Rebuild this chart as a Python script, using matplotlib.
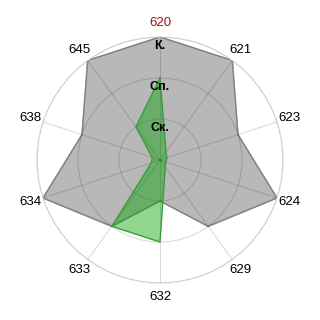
import numpy as np
import matplotlib.pyplot as plt

categories = ["620", "621", "623", "624", "629", "632", "633", "634", "638", "645"]
gray_values = [3, 3, 2, 3, 2, 1, 2, 3, 2, 3]
green_values = [2, 0.25, 0.18, 0.15, 0.22, 2, 2, 0.22, 0.2, 1]
ring_values = [1, 2, 3]
ring_labels = ["Ск.", "Сп.", "К."]

plt.rcParams["font.family"] = ["Liberation Sans", "DejaVu Sans"]

n = len(categories)
angles = np.linspace(0, 2 * np.pi, n, endpoint=False)
closed = np.append(angles, angles[0])

fig = plt.figure(figsize=(3.2, 3.2), dpi=100)
ax = fig.add_axes([37 / 320, 37 / 320, 246 / 320, 246 / 320], polar=True)
ax.set_theta_zero_location("N")
ax.set_theta_direction(-1)
ax.set_ylim(0, 3)

gv = np.append(gray_values, gray_values[0])
ax.fill(closed, gv, color="#b8b8b8", zorder=1)
ax.plot(closed, gv, color="#7f7f7f", lw=1, zorder=2)

cv = np.append(green_values, green_values[0])
ax.fill(closed, cv, color="#00a000", alpha=0.43, lw=0, zorder=3)
ax.plot(closed, cv, color="#3a9e3a", lw=1, zorder=4)

ax.set_xticks(angles)
ax.set_xticklabels([])
ax.set_yticks(ring_values)
ax.set_yticklabels([])
ax.tick_params(length=0)
ax.set_axisbelow(False)
for gl in ax.xaxis.get_gridlines() + ax.yaxis.get_gridlines():
    gl.set_color("black")
    gl.set_alpha(0.14)
    gl.set_linewidth(0.8)
    gl.set_zorder(5)
ax.spines["polar"].set_color("#dcdcdc")
ax.spines["polar"].set_linewidth(0.8)

for a, lab in zip(angles, categories):
    col = "#a01010" if lab == "620" else "black"
    ax.text(a, 3.33, lab, ha="center", va="center", fontsize=9.5,
            color=col, clip_on=False)

for v, lab in zip(ring_values, ring_labels):
    ax.text(0, v - 0.22, lab, ha="center", va="center", fontsize=9,
            fontweight="bold", color="black", zorder=6)

fig.savefig("out.png", dpi=100)
